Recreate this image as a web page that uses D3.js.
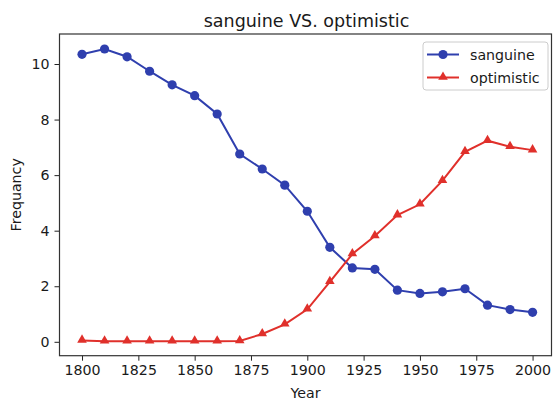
<!DOCTYPE html>
<html>
<head>
<meta charset="utf-8">
<script src="https://cdn.jsdelivr.net/npm/d3@7"></script>
<style>
  body { margin: 0; background: #fff; }
  text { font-family: "DejaVu Sans", sans-serif; fill: #1a1a1a; }
</style>
</head>
<body>
<svg id="chart" width="554" height="402"></svg>
<script>
// values
var years = [1800, 1810, 1820, 1830, 1840, 1850, 1860, 1870, 1880, 1890, 1900,
             1910, 1920, 1930, 1940, 1950, 1960, 1970, 1980, 1990, 2000];
var sanguine = [10.35, 10.54, 10.26, 9.74, 9.25, 8.86, 8.2, 6.76, 6.22, 5.64, 4.7,
                3.4, 2.66, 2.61, 1.86, 1.74, 1.8, 1.91, 1.32, 1.16, 1.06];
var optimistic = [0.05, 0.02, 0.02, 0.02, 0.02, 0.02, 0.02, 0.03, 0.28, 0.63, 1.17,
                  2.16, 3.16, 3.81, 4.56, 4.95, 5.8, 6.84, 7.24, 7.02, 6.9];
var xTicks = [1800, 1825, 1850, 1875, 1900, 1925, 1950, 1975, 2000];
var yTicks = [0, 2, 4, 6, 8, 10];
var seriesNames = ["sanguine", "optimistic"];

var blue = "#2f3fae", red = "#e0302b";

var svg = d3.select("#chart");
var pLeft = 59.5, pRight = 551.5, pTop = 34, pBottom = 355.7;

var x = d3.scaleLinear().domain([1790, 2008.4]).range([pLeft, pRight]);
var y = d3.scaleLinear().domain([-0.5, 11.08]).range([pBottom, pTop]);

// axes
var xAxis = d3.axisBottom(x).tickValues(xTicks).tickFormat(d3.format("d")).tickSize(5).tickPadding(4);
var yAxis = d3.axisLeft(y).tickValues(yTicks).tickSize(5).tickPadding(5);

var gx = svg.append("g").attr("transform", "translate(0," + pBottom + ")").call(xAxis);
var gy = svg.append("g").attr("transform", "translate(" + pLeft + ",0)").call(yAxis);
[gx, gy].forEach(g => {
    g.select(".domain").remove();
    g.selectAll("line").attr("stroke", "#222").attr("stroke-width", 1);
    g.selectAll("text").style("font-size", "14.2px").attr("fill", "#1a1a1a")
        .style("font-family", "DejaVu Sans, sans-serif");
});

// frame
svg.append("rect")
    .attr("x", pLeft).attr("y", pTop)
    .attr("width", pRight - pLeft).attr("height", pBottom - pTop)
    .attr("fill", "none").attr("stroke", "#333").attr("stroke-width", 1.2);

var line = d3.line().x((d, i) => x(years[i])).y(d => y(d));

// sanguine
svg.append("path").datum(sanguine)
    .attr("d", line).attr("fill", "none")
    .attr("stroke", blue).attr("stroke-width", 2);
svg.selectAll(".dot").data(sanguine).enter()
    .append("circle").attr("class", "dot")
    .attr("cx", (d, i) => x(years[i])).attr("cy", d => y(d))
    .attr("r", 4.6).attr("fill", blue);

// optimistic
var tri = d3.symbol().type(d3.symbolTriangle).size(40);
svg.append("path").datum(optimistic)
    .attr("d", line).attr("fill", "none")
    .attr("stroke", red).attr("stroke-width", 2);
svg.selectAll(".tri").data(optimistic).enter()
    .append("path").attr("class", "tri")
    .attr("d", tri)
    .attr("transform", (d, i) => "translate(" + x(years[i]) + "," + (y(d) - 0.5) + ")")
    .attr("fill", red);

// title and labels
svg.append("text").attr("x", (pLeft + pRight) / 2 + 1).attr("y", 26.5)
    .attr("text-anchor", "middle").style("font-size", "17.5px")
    .text("sanguine VS. optimistic");
svg.append("text").attr("x", (pLeft + pRight) / 2).attr("y", 398)
    .attr("text-anchor", "middle").style("font-size", "14.2px")
    .text("Year");
svg.append("text")
    .attr("transform", "translate(20.5," + (pTop + pBottom) / 2 + ") rotate(-90)")
    .attr("text-anchor", "middle").style("font-size", "14.2px")
    .text("Frequancy");

// legend
var lg = svg.append("g").attr("transform", "translate(423,42)");
lg.append("rect").attr("width", 125).attr("height", 48).attr("rx", 3)
    .attr("fill", "#fff").attr("stroke", "#ccc").attr("stroke-width", 1);
seriesNames.forEach((name, i) => {
    var cy = 12.5 + i * 23;
    var col = i === 0 ? blue : red;
    lg.append("line").attr("x1", 4).attr("x2", 36).attr("y1", cy).attr("y2", cy)
        .attr("stroke", col).attr("stroke-width", 2);
    if (i === 0) {
        lg.append("circle").attr("cx", 20).attr("cy", cy).attr("r", 4.6).attr("fill", col);
    } else {
        lg.append("path").attr("d", tri).attr("transform", "translate(20," + (cy - 0.5) + ")").attr("fill", col);
    }
    lg.append("text").attr("x", 47).attr("y", cy + 5).style("font-size", "14.2px").text(name);
});
</script>
</body>
</html>
